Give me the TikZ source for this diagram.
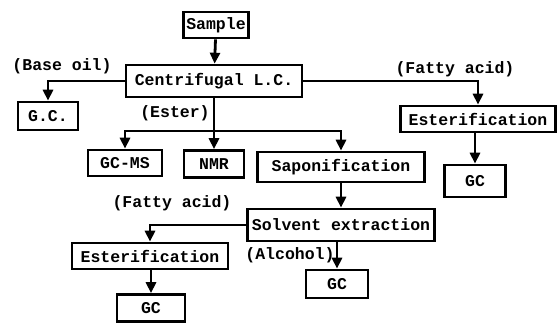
\documentclass[tikz,border=0pt]{standalone}
\usepackage{fontspec}
\setmonofont{Liberation Mono}
\usepackage{tikz}
\usetikzlibrary{arrows.meta}
\tikzset{
  box/.style={draw=black, line width=2.6pt, font=\ttfamily\bfseries\fontsize{16.5}{17}\selectfont, inner sep=3pt, minimum height=26pt},
  lab/.style={font=\ttfamily\bfseries\fontsize{16.5}{17}\selectfont, inner sep=1pt},
  arr/.style={draw=black, line width=2.8pt, -{Triangle[length=11pt,width=10pt]}},
}

\begin{document}
\begin{tikzpicture}[x=1pt,y=-1pt]
  \useasboundingbox (0,0) rectangle (558,324);
  % top part
  \node[box,minimum width=62pt] (sample) at (216,25) {Sample};
  \node[box,minimum width=176pt,minimum height=32pt] (cent) at (214,81) {Centrifugal L.C.};
  \node[box,minimum width=60pt,minimum height=28pt] (gc) at (48,116) {G.C.};
  \node[box,minimum width=155pt] (esterA) at (478,119) {Esterification};
  \node[box,minimum width=61pt,minimum height=32pt] (gcA) at (475,181) {GC};
  % ester branch
  \node[box,minimum width=74pt] (gcms) at (125,163) {GC-MS};
  \node[box,minimum width=60pt,minimum height=27pt] (nmr) at (214,164) {NMR};
  \node[box,minimum width=167pt,minimum height=30pt] (sapo) at (341,167) {Saponification};
  \node[box,minimum width=187pt,minimum height=32pt] (solv) at (341,225) {Solvent extraction};
  \node[box,minimum width=156pt] (esterB) at (150,256) {Esterification};
  \node[box,minimum width=68pt,minimum height=27pt] (gcB) at (151,308) {GC};
  \node[box,minimum width=62pt,minimum height=28pt] (gcC) at (337,284) {GC};
  % labels
  \node[lab] (lbase) at (62,66) {(Base oil)};
  \node[lab] (lfatA) at (455,69) {(Fatty acid)};
  \node[lab] (lester) at (175,113) {(Ester)};
  \node[lab] (lfatB) at (172,203) {(Fatty acid)};
  \node[lab] (lalc) at (290,255) {(Alcohol)};
  \coordinate (split) at (214,131);
  % arrows
  \draw[arr] (sample) -- (cent);
  \draw[arr] (cent.west) -| (gc.north);
  \draw[arr] (cent.east) -| (esterA.north);
  \draw[arr] (esterA.south -| gcA.north) -- (gcA.north);
  \draw[arr] (cent.south) -- (nmr.north);
  \draw[arr] (split) -| (gcms.north);
  \draw[arr] (split) -| (sapo.north);
  \draw[arr] (sapo) -- (solv);
  \draw[arr] (solv.west) -| (esterB.north);
  \draw[arr] (esterB.south -| gcB.north) -- (gcB.north);
  \draw[arr] (solv.south -| gcC.north) -- (gcC.north);
\end{tikzpicture}
\end{document}
